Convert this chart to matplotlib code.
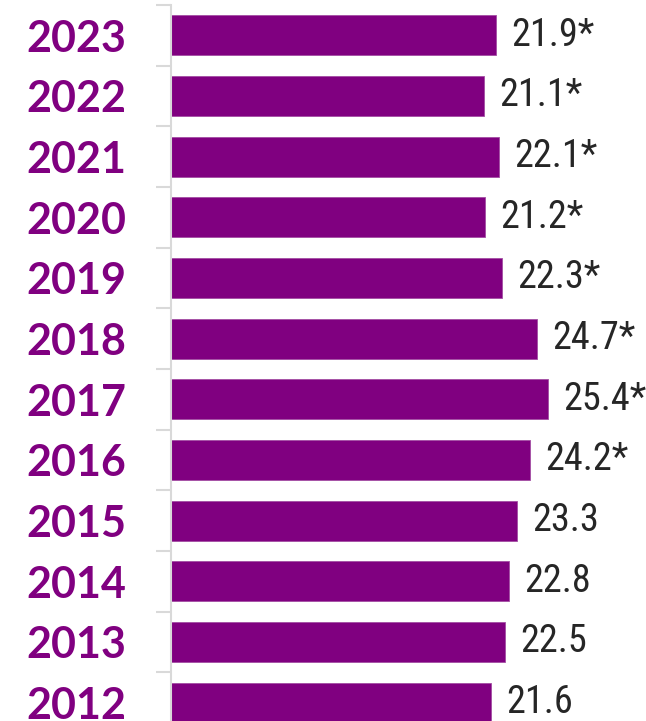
import matplotlib
matplotlib.use("Agg")
import matplotlib.pyplot as plt
from matplotlib import font_manager
from matplotlib.font_manager import FontProperties

years = ["2023", "2022", "2021", "2020", "2019", "2018", "2017", "2016", "2015", "2014", "2013", "2012"]
values = [21.9, 21.1, 22.1, 21.2, 22.3, 24.7, 25.4, 24.2, 23.3, 22.8, 22.5, 21.6]
labels = ["21.9*", "21.1*", "22.1*", "21.2*", "22.3*", "24.7*", "25.4*", "24.2*", "23.3", "22.8", "22.5", "21.6"]


def find_condensed():
    entries = font_manager.fontManager.ttflist
    prefs = ["liberation sans narrow", "dejavu sans condensed", "roboto condensed",
             "open sans condensed", "noto sans condensed", "arial narrow"]
    for pref in prefs:
        for f in entries:
            if f.name.lower() == pref and f.weight in (400, "normal", "regular") and f.style == "normal":
                return FontProperties(fname=f.fname)
    for f in entries:
        st = str(f.stretch).lower()
        fn = f.fname.lower()
        if ("condensed" in st or "narrow" in fn or "condensed" in fn) and f.style == "normal" \
                and "bold" not in fn and "oblique" not in fn and "italic" not in fn:
            return FontProperties(fname=f.fname)
    return None


vprop = find_condensed()

purple = "#800080"
W, H = 646, 721
fig = plt.figure(figsize=(W / 100, H / 100), dpi=100)
ax_left = 170.5 / W
ax_top = (H - 5) / H
ax_h = 728 / H
ax = fig.add_axes([ax_left, ax_top - ax_h, 1 - ax_left, ax_h])

n = len(years)
pos = list(range(n))
ax.barh(pos, values, height=0.66, color=purple, edgecolor="#a34da3", linewidth=0.6)
ax.set_ylim(n - 0.5, -0.5)
ax.set_xlim(0, (W - 170.5) / 14.85)

ax.set_yticks(pos)
ax.set_yticklabels(years, fontsize=31, fontweight="bold", color=purple, family="Lato")
ax.tick_params(axis="y", which="major", length=0, pad=32)
ax.set_yticks([p - 0.5 for p in pos] + [n - 0.5], minor=True)
ax.tick_params(axis="y", which="minor", length=11, width=1.5, color="#d9d9d9")
ax.set_xticks([])

for s in ["top", "right", "bottom"]:
    ax.spines[s].set_visible(False)
ax.spines["left"].set_color("#d9d9d9")
ax.spines["left"].set_linewidth(1.5)

for p, v, t in zip(pos, values, labels):
    if vprop is not None:
        fp = vprop.copy()
        fp.set_size(27.5)
        ax.annotate(t, xy=(v, p), xytext=(11, 0), textcoords="offset points",
                    ha="left", va="center", fontproperties=fp, color="#262626")
    else:
        ax.annotate(t, xy=(v, p), xytext=(11, 0), textcoords="offset points",
                    ha="left", va="center", fontsize=23, color="#262626",
                    family="DejaVu Sans")

fig.savefig("out.png", dpi=100)
